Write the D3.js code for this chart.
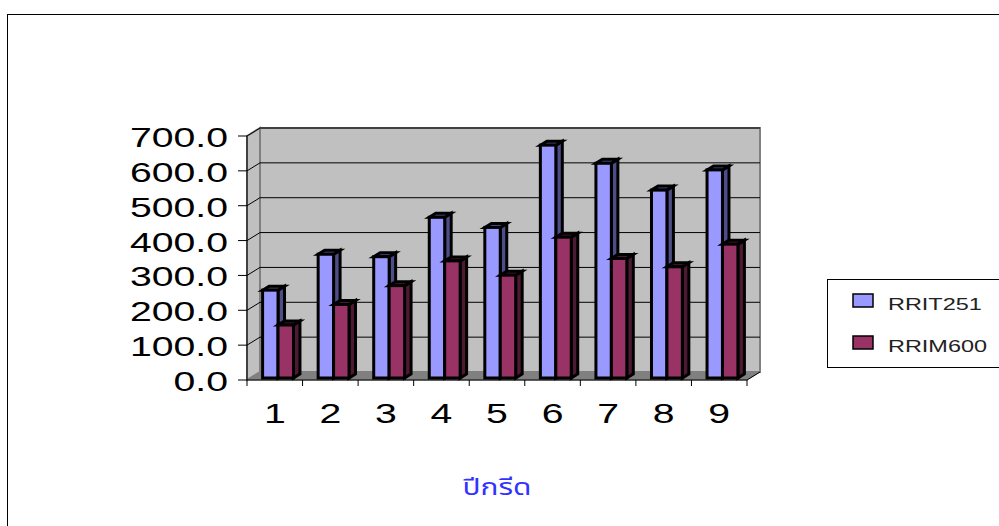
<!DOCTYPE html>
<html>
<head>
<meta charset="utf-8">
<script src="https://cdn.jsdelivr.net/npm/d3@7"></script>
<style>
  body { margin: 0; background: #fff; }
  svg { display: block; font-family: "Liberation Sans", Arial, sans-serif; }
</style>
</head>
<body>
<svg id="chart"></svg>
<script>
// 연도(1~9)별 두 품종 값
const categories = ["1", "2", "3", "4", "5", "6", "7", "8", "9"];
const seriesNames = ["RRIT251", "RRIM600"];
const rrit251 = [252, 355, 348, 461, 432, 668, 616, 539, 597];
const rrim600 = [152, 211, 265, 336, 295, 404, 343, 319, 384];
const yTicks = [0, 100, 200, 300, 400, 500, 600, 700];
const xTitle = "ปีกรีด";

const width = 999, height = 526;
const stretch = 1.4;           // 원본 글자가 가로로 늘어나 있음
const depth = { dx: 13, dy: -8 };  // 벽 깊이
const colors = { RRIT251: "#9999ff", RRIM600: "#993366" };
const sideColors = { RRIT251: "#4d4d88", RRIM600: "#4d1a33" };

const data = categories.map((c, i) => ({ cat: c, RRIT251: rrit251[i], RRIM600: rrim600[i] }));

const svg = d3.select("#chart").attr("width", width).attr("height", height);

// 바깥 테두리
svg.append("rect")
  .attr("x", 7.5).attr("y", 14.5)
  .attr("width", 1100).attr("height", 600)
  .attr("fill", "none").attr("stroke", "#000");

const x0 = d3.scaleBand().domain(categories).range([247, 747]).padding(0);
const x1 = d3.scaleBand().domain(seriesNames).range([0, x0.bandwidth()]).paddingOuter(0.8);
const y = d3.scaleLinear().domain([0, 700]).range([380, 136]);

const xLeft = x0.range()[0], xRight = x0.range()[1];
const yBase = y(0), yTop = y(700);

// 뒷벽
svg.append("rect")
  .attr("x", xLeft + depth.dx).attr("y", yTop + depth.dy)
  .attr("width", xRight - xLeft).attr("height", yBase - yTop)
  .attr("fill", "#c0c0c0").attr("stroke", "#808080").attr("stroke-width", 2);

// 옆벽
svg.append("polygon")
  .attr("points", [[xLeft, yTop], [xLeft + depth.dx, yTop + depth.dy], [xLeft + depth.dx, yBase + depth.dy], [xLeft, yBase]].join(" "))
  .attr("fill", "#c0c0c0").attr("stroke", "#808080").attr("stroke-width", 2);

// 바닥
svg.append("polygon")
  .attr("points", [[xLeft, yBase], [xLeft + depth.dx, yBase + depth.dy], [xRight + depth.dx, yBase + depth.dy], [xRight, yBase]].join(" "))
  .attr("fill", "#808080").attr("stroke", "#808080");

// 그리드
const grid = svg.append("g").attr("stroke", "#000").attr("stroke-width", 1);
yTicks.filter(t => t > 0).forEach(t => {
  grid.append("line")
    .attr("x1", xLeft + depth.dx).attr("x2", xRight + depth.dx)
    .attr("y1", y(t) + depth.dy).attr("y2", y(t) + depth.dy);
  grid.append("line")
    .attr("x1", xLeft).attr("x2", xLeft + depth.dx)
    .attr("y1", y(t)).attr("y2", y(t) + depth.dy);
});

// 막대 (앞면은 깊이 1/4 지점, 두께는 깊이 절반)
const f0 = 0.25, fd = 0.5;
const bx = depth.dx * f0, by = depth.dy * f0;
const sx = depth.dx * fd, sy = depth.dy * fd;

const bars = svg.append("g").attr("stroke", "#000").attr("stroke-width", 3).attr("stroke-linejoin", "miter");
data.forEach(d => {
  seriesNames.forEach(s => {
    const xa = x0(d.cat) + x1(s) + bx;
    const w = x1.bandwidth();
    const yt = y(d[s]) + by;
    const yb = yBase + by;
    const g = bars.append("g");
    g.append("polygon")
      .attr("points", [[xa + w, yt], [xa + w + sx, yt + sy], [xa + w + sx, yb + sy], [xa + w, yb]].join(" "))
      .attr("fill", sideColors[s]);
    g.append("polygon")
      .attr("points", [[xa, yt], [xa + sx, yt + sy], [xa + w + sx, yt + sy], [xa + w, yt]].join(" "))
      .attr("fill", sideColors[s]);
    g.append("rect")
      .attr("x", xa).attr("y", yt)
      .attr("width", w).attr("height", yb - yt)
      .attr("fill", colors[s]);
  });
});

// 축선
const axis = svg.append("g").attr("stroke", "#000").attr("stroke-width", 1);
axis.append("line").attr("x1", xLeft).attr("x2", xLeft).attr("y1", yTop).attr("y2", yBase);
axis.append("line").attr("x1", xLeft).attr("x2", xRight).attr("y1", yBase).attr("y2", yBase);
axis.append("line").attr("x1", xRight).attr("x2", xRight + depth.dx).attr("y1", yBase).attr("y2", yBase + depth.dy);
yTicks.forEach(t => {
  axis.append("line").attr("x1", xLeft - 9).attr("x2", xLeft).attr("y1", y(t)).attr("y2", y(t));
});
x0.domain().forEach(c => {
  axis.append("line").attr("x1", x0(c)).attr("x2", x0(c)).attr("y1", yBase).attr("y2", yBase + 6);
});
axis.append("line").attr("x1", xRight).attr("x2", xRight).attr("y1", yBase).attr("y2", yBase + 6);

// Y 라벨
const fmt = d3.format(".1f");
svg.append("g")
  .selectAll("text")
  .data(yTicks)
  .join("text")
  .attr("transform", d => `translate(${xLeft - 19},${y(d) + 11}) scale(${stretch},1)`)
  .attr("text-anchor", "end")
  .attr("font-size", 28)
  .text(d => fmt(d));

// X 라벨
svg.append("g")
  .selectAll("text")
  .data(categories)
  .join("text")
  .attr("transform", d => `translate(${x0(d) + x0.bandwidth() / 2},${yBase + 43}) scale(${stretch},1)`)
  .attr("text-anchor", "middle")
  .attr("font-size", 28)
  .text(d => d);

// X 제목
svg.append("text")
  .attr("transform", `translate(497,495) scale(1.3,1)`)
  .attr("text-anchor", "middle")
  .attr("font-size", 23)
  .attr("fill", "#3333ff")
  .attr("font-family", "Tahoma, 'Noto Sans Thai', 'DejaVu Sans', sans-serif")
  .text(xTitle);

// 범례
const legend = svg.append("g");
legend.append("rect")
  .attr("x", 827.5).attr("y", 279.5)
  .attr("width", 180).attr("height", 88)
  .attr("fill", "#fff").attr("stroke", "#000");
seriesNames.forEach((s, i) => {
  const ly = 294 + i * 42;
  legend.append("rect")
    .attr("x", 853).attr("y", ly)
    .attr("width", 20).attr("height", 13)
    .attr("fill", colors[s]).attr("stroke", "#000").attr("stroke-width", 1.5);
  legend.append("text")
    .attr("transform", `translate(888,${ly + 16}) scale(1.38,1)`)
    .attr("font-size", 17)
    .attr("fill", "#222")
    .text(s);
});
</script>
</body>
</html>
